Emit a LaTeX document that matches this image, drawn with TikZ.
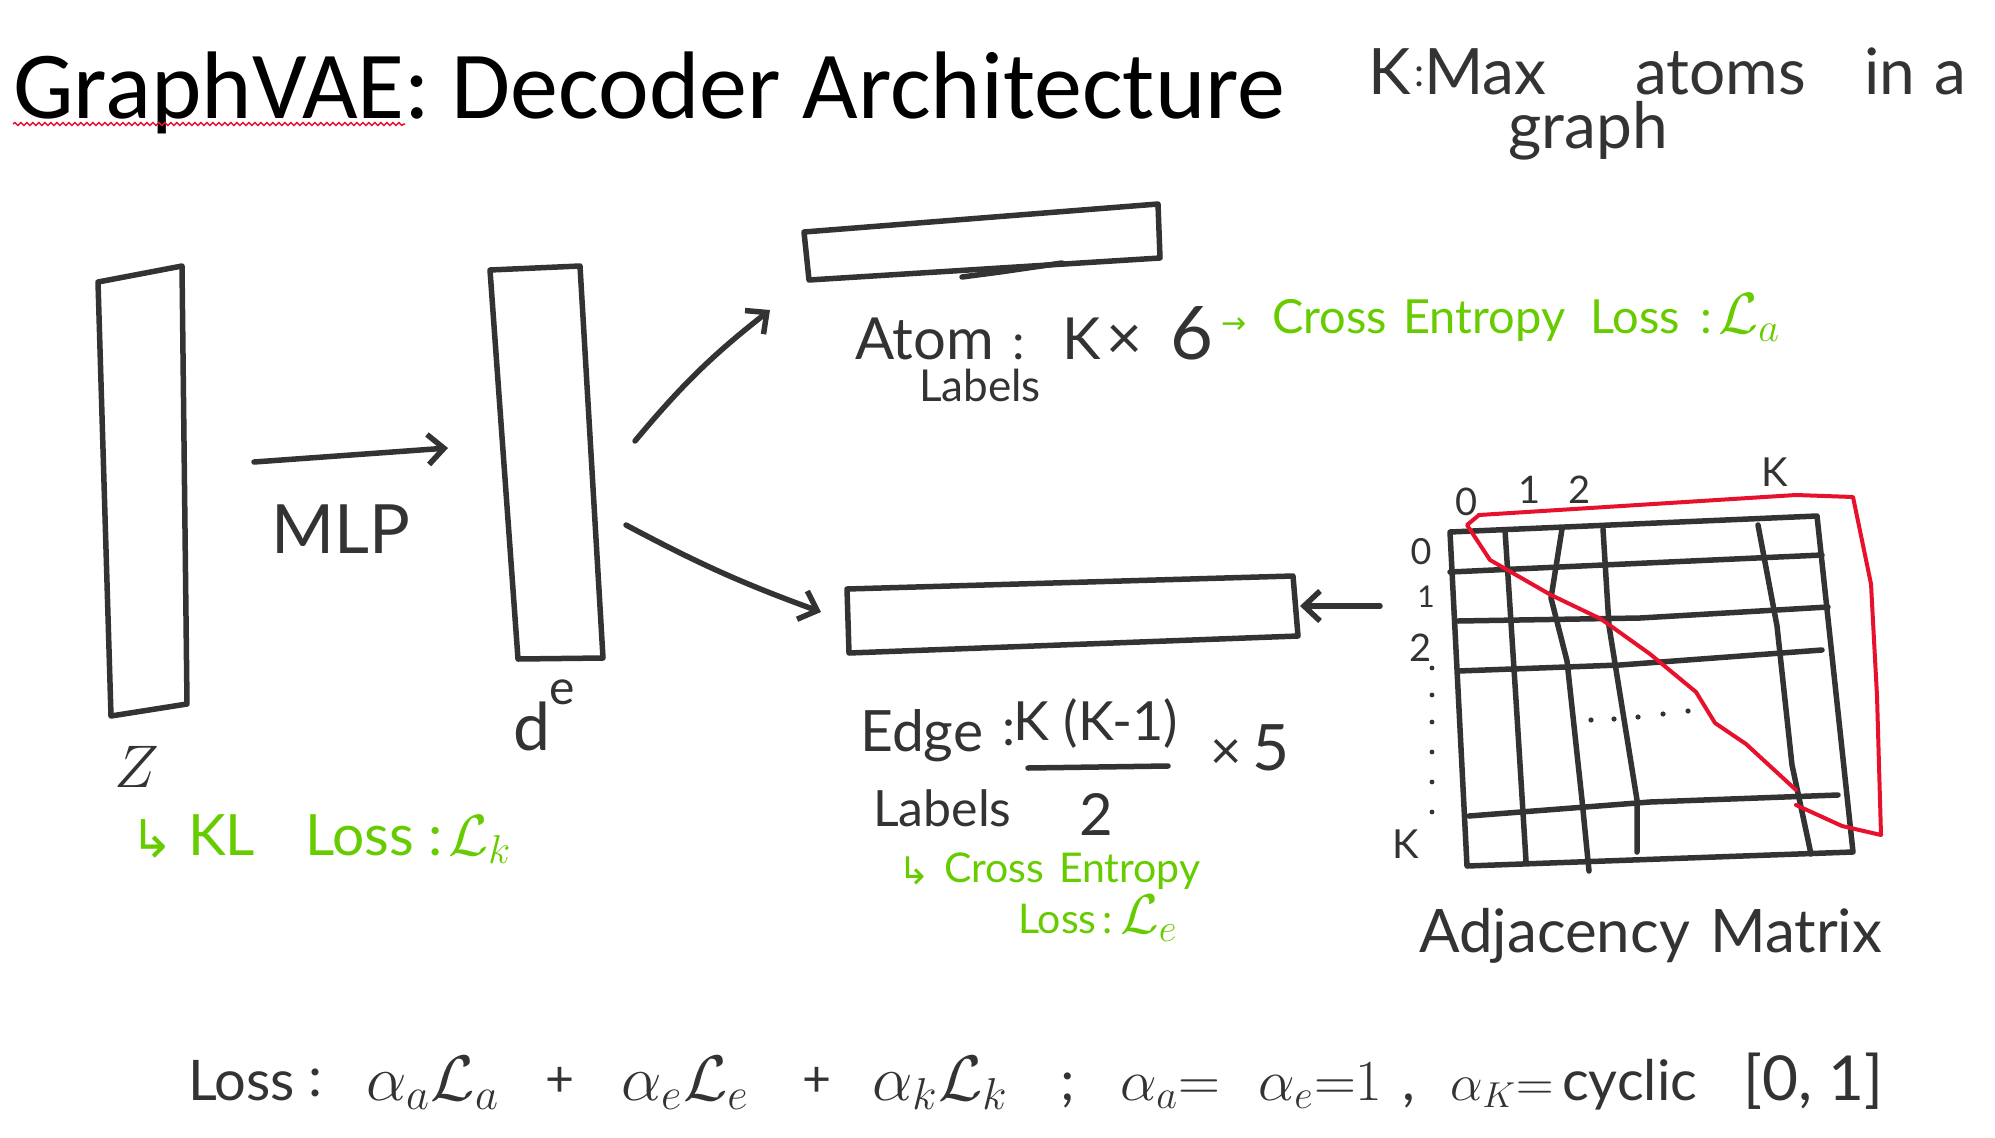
\documentclass[tikz,border=0pt]{standalone}
\usepackage{fontspec}
\setmainfont{Lato}
\newfontfamily\titlefont{Carlito}
\newfontfamily\symfont{DejaVu Sans}
\usetikzlibrary{arrows.meta,decorations.pathmorphing}
\definecolor{ink}{HTML}{333333}
\definecolor{grn}{HTML}{66CC00}
\definecolor{rd}{HTML}{E8112D}
\newcommand\fsz[1]{\fontsize{#1}{#1}\selectfont}
\newcommand\mth[2]{\scalebox{#1}{\fontsize{20}{20}\selectfont$#2$}}
\begin{document}
\begin{tikzpicture}[x=1pt,y=-1pt,
  pen/.style={draw=ink,line width=5.5pt,line cap=round,line join=round},
  redpen/.style={draw=rd,line width=4pt,line cap=round,line join=round},
  arr/.style={pen,-{Straight Barb[length=16pt,width=30pt]}},
  hw/.style={text=ink,inner sep=0pt,anchor=base west},
  gw/.style={text=grn,inner sep=0pt,anchor=base west},
  lab/.style={text=ink,inner sep=0pt,anchor=center}]
\useasboundingbox[fill=white] (0,0) rectangle (1995,1138);

% title
\node[inner sep=0pt,anchor=base west,font=\titlefont\fsz{96}] (title) at (13,118) {GraphVAE: Decoder Architecture};
\draw[rd,line width=1.5pt,decorate,decoration={snake,amplitude=1.4pt,segment length=6pt}] (13,124) -- (405,124);

% note top right
\node[hw,font=\fsz{64}] (k1) at (1368,94) {K};
\node[hw,font=\fsz{40}] (k1c) at (1414,86) {:};
\node[hw,font=\fsz{64}] (k2) at (1424,94) {Max};
\node[hw,font=\fsz{64}] (k3) at (1635,94) {atoms};
\node[hw,font=\fsz{64}] (k4) at (1864,94) {in};
\node[hw,font=\fsz{64}] (k5) at (1934,94) {a};
\node[hw,font=\fsz{64}] (k6) at (1508,148) {graph};

% latent box z
\coordinate (z1) at (98,282); \coordinate (z2) at (182,266);
\coordinate (z3) at (187,704); \coordinate (z4) at (111,716);
\draw[pen] (z1) -- (z2) -- (z3) -- (z4) -- cycle;
\node[lab] (zlab) at (137,767) {\mth{2.9}{Z}};

% KL loss
\node[gw,font=\symfont\fsz{52}] (kl0) at (130,857) {↳};
\node[gw,font=\fsz{57}] (kl1) at (188,855) {KL};
\node[gw,font=\fsz{57}] (kl2) at (305,855) {Loss};
\node[gw,font=\fsz{57}] (kl3) at (428,855) {:};
\node[gw] (kl4) at (448,855) {\mth{2.8}{\mathcal{L}_k}};

% MLP arrow
\coordinate (mlpS) at (254,462); \coordinate (mlpE) at (448,448);
\draw[arr] (mlpS) -- (mlpE);
\node[lab,font=\fsz{68}] (mlp) at (341,529) {MLP};

% d^e box
\coordinate (d1) at (490,270); \coordinate (d2) at (580,266);
\coordinate (d3) at (603,658); \coordinate (d4) at (518,659);
\draw[pen] (d1) -- (d2) -- (d3) -- (d4) -- cycle;
\node[hw,font=\fsz{66}] (dlab) at (513,750) {d};
\node[lab,font=\fsz{48}] (elab) at (562,692) {e};

% arrows out of d^e
\coordinate (upS) at (635,441); \coordinate (upE) at (770,310);
\draw[arr] (upS) to[bend left=6] (upE);
\coordinate (loS) at (626,525); \coordinate (loE) at (821,612);
\draw[arr] (loS) to[bend right=4] (loE);

% atom box
\coordinate (a1) at (804,232); \coordinate (a2) at (1158,204);
\coordinate (a3) at (1160,258); \coordinate (a4) at (809,280);
\draw[pen] (a1) -- (a2) -- (a3) -- (a4) -- cycle;
\draw[pen] (962,277) -- (1000,272) -- (1062,263);
\node[hw,font=\fsz{58}] (at1) at (855,359) {Atom};
\node[hw,font=\fsz{50}] (at2) at (1012,359) {:};
\node[hw,font=\fsz{58}] (at3) at (1062,359) {K};
\node[hw,font=\fsz{62}] (at4) at (1106,359) {×};
\node[hw,font=\fsz{74}] (at5) at (1170,359) {6};
\node[hw,font=\fsz{44}] (at6) at (919,401) {Labels};
\node[gw,font=\symfont\fsz{30}] (ga0) at (1221,333) {→};
\node[gw,font=\fsz{47}] (ga1) at (1272,333) {Cross};
\node[gw,font=\fsz{47}] (ga2) at (1403,333) {Entropy};
\node[gw,font=\fsz{47}] (ga3) at (1590,333) {Loss};
\node[gw,font=\fsz{47}] (ga4) at (1700,333) {:};
\node[gw] (ga5) at (1718,333) {\mth{2.8}{\mathcal{L}_a}};

% edge box
\coordinate (e1) at (847,589); \coordinate (e2) at (1293,576);
\coordinate (e3) at (1298,636); \coordinate (e4) at (849,653);
\draw[pen] (e1) -- (e2) -- (e3) -- (e4) -- cycle;
\node[hw,font=\fsz{57}] (ed1) at (860,751) {Edge};
\node[hw,font=\fsz{52}] (ed2) at (1002,745) {:};
\node[text=ink,inner sep=0pt,anchor=base,font=\fsz{54}] (ed3) at (1096,740) {K (K-1)};
\coordinate (fb1) at (1028,768); \coordinate (fb2) at (1168,766);
\draw[pen] (fb1) -- (fb2);
\node[lab,font=\fsz{58}] (ed4) at (1096,814) {2};
\node[lab,font=\fsz{54}] (ed5) at (1226,754) {×};
\node[lab,font=\fsz{64}] (ed6) at (1271,748) {5};
\node[hw,font=\fsz{50}] (ed7) at (873,826) {Labels};
\node[gw,font=\symfont\fsz{38}] (ge0) at (898,884) {↳};
\node[gw,font=\fsz{41}] (ge1) at (944,882) {Cross};
\node[gw,font=\fsz{41}] (ge2) at (1059,882) {Entropy};
\node[gw,font=\fsz{41}] (ge3) at (1018,933) {Loss};
\node[gw,font=\fsz{41}] (ge4) at (1102,933) {:};
\node[gw] (ge5) at (1120,933) {\mth{2.7}{\mathcal{L}_e}};

% matrix to edge arrow
\coordinate (adjS) at (1380,606); \coordinate (adjE) at (1300,606);
\draw[arr] (adjS) -- (adjE);

% adjacency matrix grid
\draw[pen] (1450,532) -- (1817,516) -- (1853,852) -- (1467,866) -- cycle;
\draw[pen] (1450,572) -- (1822,555);
\draw[pen] (1458,621) -- (1640,618) -- (1828,607);
\draw[pen] (1458,671) -- (1620,665) -- (1822,650);
\draw[pen] (1469,816) -- (1650,802) -- (1838,795);
\draw[pen] (1505,530) -- (1516,700) -- (1526,861);
\draw[pen] (1562,529) -- (1551,598) -- (1567,661) -- (1582,800) -- (1589,871);
\draw[pen] (1603,529) -- (1609,626) -- (1637,800) -- (1637,852);
\draw[pen] (1758,525) -- (1777,626) -- (1792,765) -- (1811,854);

% red upper triangle
\draw[redpen] (1479,515) -- (1467,525) -- (1490,560) -- (1551,595) -- (1601,619) -- (1650,654) -- (1696,692) -- (1715,723) -- (1746,744) -- (1796,790);
\draw[redpen] (1796,805) -- (1842,826) -- (1881,835) -- (1877,696) -- (1871,584) -- (1853,497) -- (1796,495) -- (1479,515);

% matrix labels
\node[lab,font=\fsz{38}] (c0) at (1467,502) {0};
\node[lab,font=\fsz{38}] (c1) at (1530,490) {1};
\node[lab,font=\fsz{38}] (c2) at (1580,490) {2};
\node[lab,font=\fsz{40}] (cK) at (1775,472) {K};
\node[lab,font=\fsz{36}] (r0) at (1421,552) {0};
\node[lab,font=\fsz{30}] (r1) at (1426,597) {1};
\node[lab,font=\fsz{38}] (r2) at (1421,648) {2};
\node[lab,font=\fsz{40}] (rK) at (1406,844) {K};
\foreach \yy in {668,695,722,752,782,812} \fill[ink] (1432,\yy) circle (2.4);
\foreach \xx/\yy in {1591/720,1614/719,1638/717,1663/714,1688/711} \fill[ink] (\xx,\yy) circle (2.6);
\node[hw,font=\fsz{60}] (adj1) at (1419,952) {Adjacency};
\node[hw,font=\fsz{60}] (adj2) at (1710,952) {Matrix};

% bottom formula
\node[hw,font=\fsz{56}] (f1) at (188,1100) {Loss};
\node[hw,font=\fsz{56}] (f2) at (308,1096) {:};
\node[hw] (f3) at (366,1100) {\mth{3.1}{\alpha_a\mathcal{L}_a}};
\node[hw,font=\fsz{50}] (f4) at (545,1096) {+};
\node[hw] (f5) at (621,1100) {\mth{3.1}{\alpha_e\mathcal{L}_e}};
\node[hw,font=\fsz{50}] (f6) at (802,1096) {+};
\node[hw] (f7) at (872,1100) {\mth{3.1}{\alpha_k\mathcal{L}_k}};
\node[hw,font=\fsz{56}] (f8) at (1060,1100) {;};
\node[hw] (f9) at (1120,1100) {\mth{2.8}{\alpha_a{=}}};
\node[hw] (f10) at (1258,1100) {\mth{2.8}{\alpha_e{=}1}};
\node[hw,font=\fsz{56}] (f11) at (1402,1100) {,};
\node[hw] (f12) at (1450,1100) {\mth{2.5}{\alpha_K{=}}};
\node[hw,font=\fsz{56}] (f13) at (1562,1100) {cyclic};
\node[hw,font=\fsz{62}] (f14) at (1743,1100) {[0, 1]};
\end{tikzpicture}
\end{document}
